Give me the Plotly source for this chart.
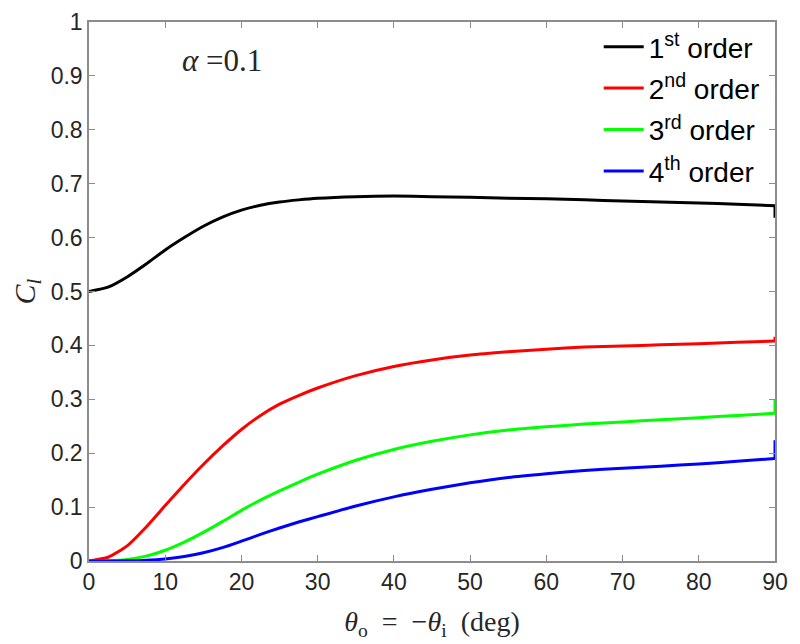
import plotly.graph_objects as go

# ── data ──
theta = [0, 2.5, 5, 7.5, 10, 12.5, 15, 17.5, 20, 22.5, 25, 27.5, 30, 35, 40, 45,
         50, 55, 60, 65, 70, 75, 80, 85, 90]

cl_1st = [0.500, 0.508, 0.527, 0.551, 0.577, 0.600, 0.621, 0.638, 0.651, 0.660,
          0.666, 0.670, 0.673, 0.676, 0.677, 0.676, 0.675, 0.673, 0.672, 0.670,
          0.668, 0.666, 0.664, 0.662, 0.659]
cl_2nd = [0.000, 0.007, 0.028, 0.063, 0.103, 0.142, 0.179, 0.213, 0.244, 0.270,
          0.291, 0.307, 0.321, 0.344, 0.361, 0.373, 0.382, 0.388, 0.393, 0.397,
          0.399, 0.401, 0.403, 0.406, 0.408]
cl_3rd = [0.000, 0.0005, 0.003, 0.009, 0.020, 0.035, 0.053, 0.073, 0.094, 0.113,
          0.130, 0.146, 0.161, 0.187, 0.207, 0.222, 0.234, 0.243, 0.249, 0.254,
          0.258, 0.262, 0.266, 0.270, 0.274]
cl_4th = [0.000, 0.000, 0.0003, 0.0013, 0.0038, 0.0083, 0.0153, 0.0248, 0.0368,
          0.0493, 0.0613, 0.0723, 0.0823, 0.102, 0.119, 0.133, 0.145, 0.155, 0.162,
          0.168, 0.172, 0.176, 0.180, 0.185, 0.190]

# values the curves jump to at theta = 90
end_jump = [0.637, 0.416, 0.300, 0.224]

series = [
    ("1<sup>st</sup> order", cl_1st, "#000000"),
    ("2<sup>nd</sup> order", cl_2nd, "#ff0000"),
    ("3<sup>rd</sup> order", cl_3rd, "#00ff00"),
    ("4<sup>th</sup> order", cl_4th, "#0000ff"),
]

SANS = "Liberation Sans, Arial, sans-serif"
SERIF = "Liberation Serif, DejaVu Serif, serif"
TEXT = "#262626"
AXIS = "#8c8c8c"

fig = go.Figure()
for i, (name, ys, color) in enumerate(series):
    fig.add_trace(go.Scatter(
        x=theta, y=ys, mode="lines", name=name,
        line=dict(color=color, width=3, shape="spline", smoothing=0.6),
        legendgroup=f"g{i}",
    ))
    # short vertical step at the right edge
    fig.add_trace(go.Scatter(
        x=[theta[-1], theta[-1]], y=[ys[-1], end_jump[i]], mode="lines",
        line=dict(color=color, width=3), legendgroup=f"g{i}",
        showlegend=False, hoverinfo="skip",
    ))

axis_common = dict(
    showline=True, linecolor=AXIS, linewidth=1.5, mirror="ticks",
    ticks="inside", ticklen=6, tickcolor=AXIS, tickwidth=1,
    showgrid=False, zeroline=False, automargin=False,
    tickfont=dict(family=SANS, size=23, color=TEXT),
)

fig.update_xaxes(
    range=[0, 90], dtick=10, tick0=0,
    title=dict(text="<i>θ</i><sub>o</sub>  =  −<i>θ</i><sub>i</sub>  (deg)",
               font=dict(family=SERIF, size=28, color=TEXT), standoff=17),
    **axis_common,
)
fig.update_yaxes(
    range=[0, 1], dtick=0.1, tick0=0, tickformat="~g",
    title=dict(text="<i>C</i><sub><i>l</i></sub>",
               font=dict(family=SERIF, size=30, color=TEXT), standoff=10),
    **axis_common,
)

fig.add_annotation(
    x=12.0, y=0.928, xref="x", yref="y", xanchor="left", yanchor="middle",
    text="<i>α</i> =0.1", showarrow=False,
    font=dict(family=SERIF, size=31, color=TEXT),
)

# page body adds an 8px offset, so the figure is 8px smaller each way
fig.update_layout(
    width=792, height=636,
    margin=dict(l=81, r=25, t=14, b=83),
    paper_bgcolor="white", plot_bgcolor="white",
    showlegend=True,
    legend=dict(
        x=0.985, y=1.0, xanchor="right", yanchor="top",
        bgcolor="rgba(0,0,0,0)", borderwidth=0,
        font=dict(family=SANS, size=28, color="#000000"),
        tracegroupgap=2, itemwidth=40,
    ),
)

fig.write_html("out.html")
